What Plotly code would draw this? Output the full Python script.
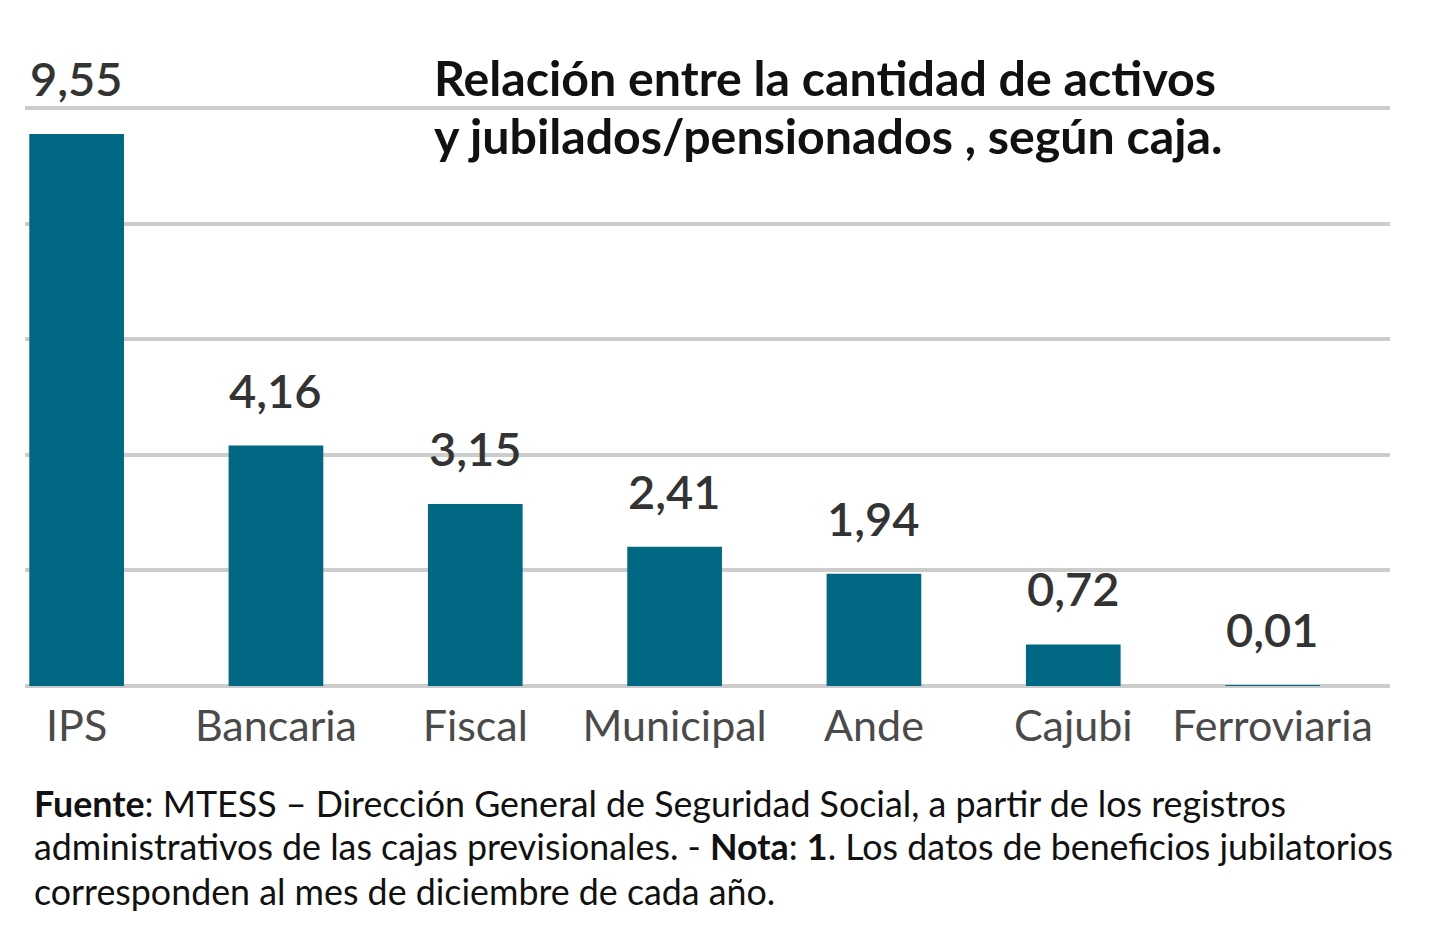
import plotly.graph_objects as go

categories = ["IPS", "Bancaria", "Fiscal", "Municipal", "Ande", "Cajubi", "Ferroviaria"]
values = [9.55, 4.16, 3.15, 2.41, 1.94, 0.72, 0.01]
title_lines = ["Relación entre la cantidad de activos", "y jubilados/pensionados , según caja."]
note_lines = [
    "<b>Fuente</b>: MTESS – Dirección General de Seguridad Social, a partir de los registros",
    "administrativos de las cajas previsionales. - <b>Nota</b>: <b>1</b>. Los datos de beneficios jubilatorios",
    "corresponden al mes de diciembre de cada año.",
]

BAR = "#006882"
GRID = "#cccccc"
FONT = "Lato"

fig = go.Figure()
fig.add_trace(go.Bar(x=categories, y=values, marker=dict(color=BAR, line=dict(width=0)),
                     width=0.475, hoverinfo="skip"))

annotations = []
for c, v in zip(categories, values):
    annotations.append(dict(x=c, y=v, xref="x", yref="y", text=f"{v:.2f}".replace(".", ","),
                            showarrow=False, yanchor="middle", yshift=56,
                            font=dict(family=FONT, size=47, color="#333333", weight=600)))

title_y = [1.048, 0.948]
for t, yy in zip(title_lines, title_y):
    annotations.append(dict(x=0.298, y=yy, xref="paper", yref="paper", text=f"<b>{t}</b>",
                            showarrow=False, xanchor="left", yanchor="middle",
                            font=dict(family=FONT, size=48.3, color="#111111")))

note_y = [-0.203, -0.277, -0.353]
for t, yy in zip(note_lines, note_y):
    annotations.append(dict(x=0.005, y=yy, xref="paper", yref="paper", text=t,
                            showarrow=False, xanchor="left", yanchor="middle", align="left",
                            font=dict(family=FONT, size=35.8, color="#111111")))

fig.update_layout(
    width=1440, height=933,
    margin=dict(l=25, r=50, t=105, b=247),
    paper_bgcolor="white", plot_bgcolor="white",
    showlegend=False,
    annotations=annotations,
    xaxis=dict(type="category", range=[-0.259, 6.589], showgrid=False, showline=False,
               ticks="", ticklabelstandoff=11,
               tickfont=dict(family=FONT, size=43, color="#4a4a4a")),
    yaxis=dict(range=[0, 10.05], dtick=2, showgrid=True, gridcolor=GRID, gridwidth=4,
               zeroline=True, zerolinecolor=GRID, zerolinewidth=4,
               showticklabels=False, ticks="", showline=False),
)

fig.write_html("out.html")
